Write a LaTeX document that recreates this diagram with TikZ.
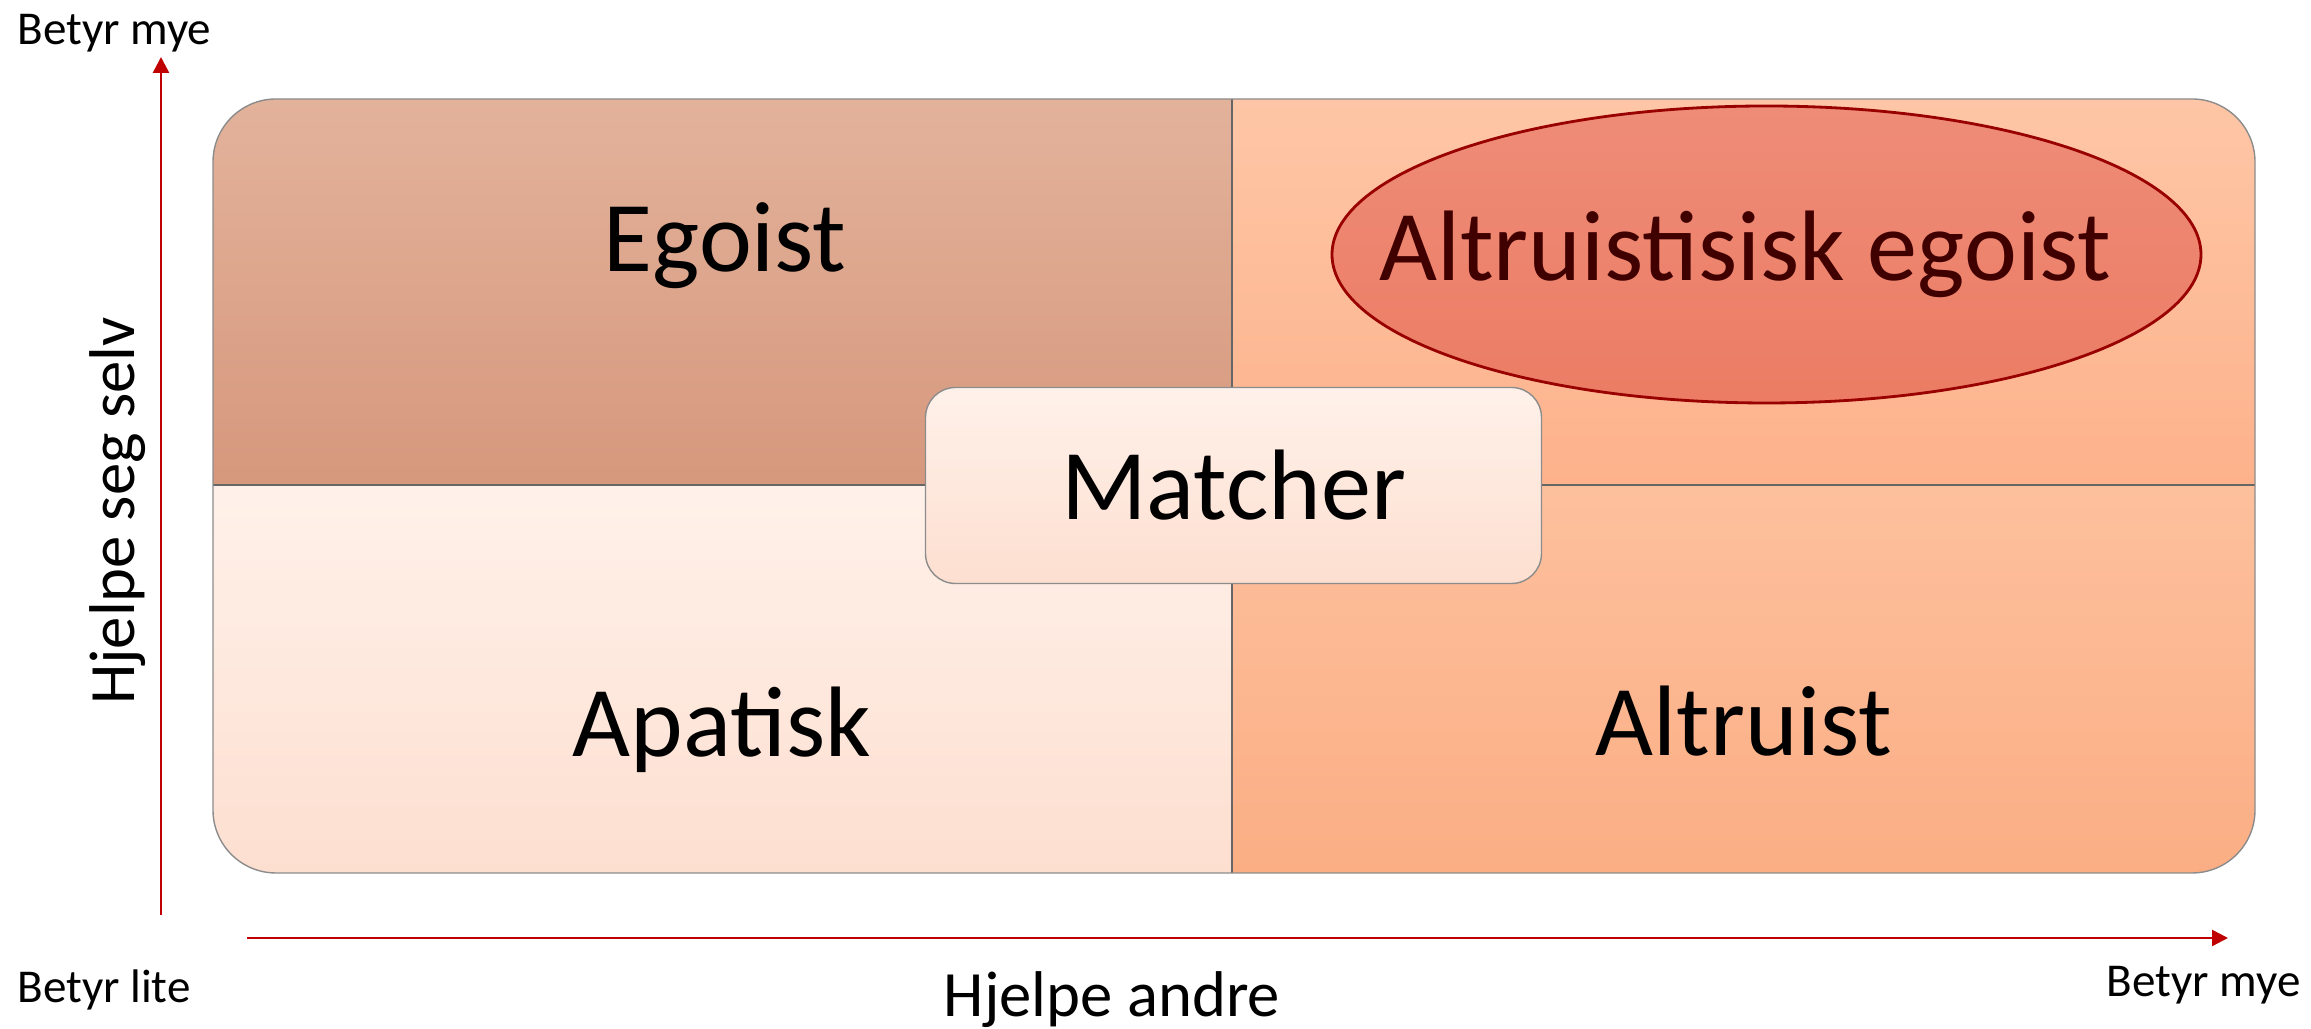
\documentclass[tikz,border=0pt]{standalone}
\usepackage{fontspec}
\setmainfont{Carlito}
\usetikzlibrary{arrows.meta,positioning,shapes}

\definecolor{axisred}{HTML}{C00000}
\definecolor{egotop}{HTML}{E3B29B}
\definecolor{egobot}{HTML}{D6987D}
\definecolor{alegotop}{HTML}{FEC6A6}
\definecolor{alegobot}{HTML}{FDB28B}
\definecolor{apatop}{HTML}{FFF1EA}
\definecolor{apabot}{HTML}{FDDFD0}
\definecolor{altrtop}{HTML}{FDC09D}
\definecolor{altrbot}{HTML}{FBAE84}
\definecolor{ovaltop}{HTML}{EE8C78}
\definecolor{ovalbot}{HTML}{EC7C64}

\begin{document}
\begin{tikzpicture}[thick]

   \tikzstyle{quad}=[anchor=base, font=\fontsize{28.5}{34}\selectfont]
   \tikzstyle{small}=[anchor=base, inner sep=0pt, font=\fontsize{13.4}{16}\selectfont]
   \tikzstyle{axtitle}=[anchor=base, inner sep=0pt, font=\fontsize{18.4}{22}\selectfont]
   \tikzstyle{axis}=[-{Triangle[length=0.16cm, width=0.16cm]}, axisred, line width=0.7pt]
   \tikzstyle{matchbox}=[rectangle, rounded corners=0.3cm, thin, draw=black!45, top color=apatop, bottom color=apabot, minimum width=6.16cm, minimum height=1.96cm, font=\fontsize{28.5}{34}\selectfont]
   \tikzstyle{oval}=[ellipse, draw=red!60!black, line width=0.8pt, top color=ovaltop, bottom color=ovalbot, minimum width=8.69cm, minimum height=2.97cm, inner sep=0pt, text=red!25!black, font=\fontsize{28.5}{34}\selectfont]

   \useasboundingbox (0,0) rectangle (23.11,-10.29);

   % quadrants
   \begin{scope}
   \clip[rounded corners=0.63cm] (2.13,-0.99) rectangle (22.55,-8.73);
   \shade[top color=egotop, bottom color=egobot] (2.13,-0.99) rectangle (12.32,-4.85);
   \shade[top color=alegotop, bottom color=alegobot] (12.32,-0.99) rectangle (22.55,-4.85);
   \shade[top color=apatop, bottom color=apabot] (2.13,-4.85) rectangle (12.32,-8.73);
   \shade[top color=altrtop, bottom color=altrbot] (12.32,-4.85) rectangle (22.55,-8.73);
   \end{scope}
   \draw[thin, black!60] (12.32,-0.99) -- (12.32,-8.73);
   \draw[thin, black!60] (2.13,-4.85) -- (22.55,-4.85);
   \draw[thin, black!45, rounded corners=0.63cm] (2.13,-0.99) rectangle (22.55,-8.73);

   \node[quad] (ego) at (7.25,-2.72) {Egoist};
   \node[quad] (apa) at (7.22,-7.57) {Apatisk};
   \node[quad] (altr) at (17.44,-7.56) {Altruist};

   \node[oval] (altego) at (17.665,-2.545) {\makebox[0pt]{Altruistisisk egoist\hspace{0.42cm}}};
   \node[matchbox] (match) at (12.335,-4.855) {Matcher};

   % axes
   \coordinate (yfoot) at (1.61,-9.15);
   \coordinate (ytop) at (1.61,-0.57);
   \coordinate (xfoot) at (2.47,-9.38);
   \coordinate (xtop) at (22.28,-9.38);
   \draw[axis] (yfoot) -- (ytop);
   \draw[axis] (xfoot) -- (xtop);

   \node[small, anchor=base west] (ymax) at (0.16,-0.45) {Betyr mye};
   \node[small, anchor=base west] (origin) at (0.16,-10.03) {Betyr lite};
   \node[small, anchor=base east] (xmax) at (23.02,-9.97) {Betyr mye};
   \node[axtitle] (xlab) at (11.12,-10.17) {Hjelpe andre};
   \node[axtitle, rotate=90] (ylab) at (1.34,-5.11) {Hjelpe seg selv};
\end{tikzpicture}
\end{document}
